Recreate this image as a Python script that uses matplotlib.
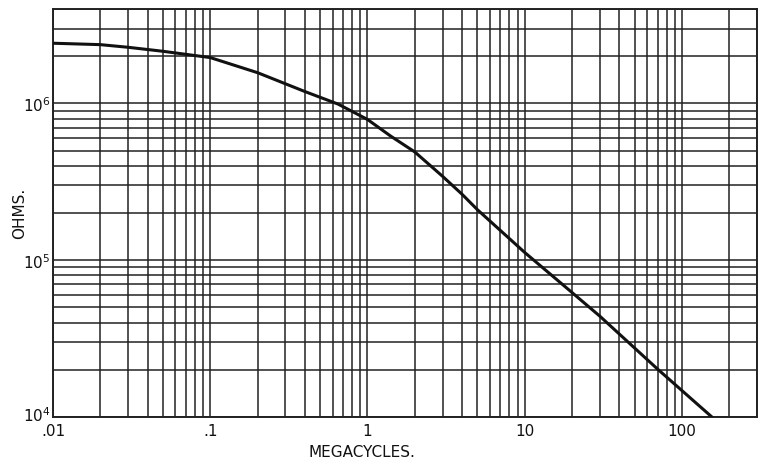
import matplotlib.pyplot as plt
from matplotlib.ticker import LogLocator, NullFormatter
from matplotlib.transforms import ScaledTranslation

# impedance curve
megacycles = [0.01, 0.02, 0.03, 0.05, 0.1, 0.2, 0.4, 0.65, 1.0, 1.4, 2.0, 3.0, 4.0, 5.0, 10.0, 18.0, 30.0, 70.0, 155.0]
ohms = [2.42e6, 2.37e6, 2.28e6, 2.15e6, 1.96e6, 1.57e6, 1.19e6, 9.9e5, 7.9e5, 6.2e5, 4.9e5,
        3.43e5, 2.63e5, 2.1e5, 1.12e5, 6.8e4, 4.4e4, 2.02e4, 1.0e4]

x_ticks = [0.01, 0.1, 1, 10, 100]
x_labels = ['.01', '.1', '1', '10', '100']
y_ticks = [1e4, 1e5, 1e6]
y_labels = ['$10^4$', '$10^5$', '$10^6$']

fig = plt.figure(figsize=(7.62, 4.64), dpi=100)
ax = fig.add_axes([53/762, 1 - 418/464, 704/762, 408/464])

ax.plot(megacycles, ohms, color='#111111', lw=2.2, zorder=3)

ax.set_xscale('log')
ax.set_yscale('log')
ax.set_xlim(0.01, 300)
ax.set_ylim(1e4, 4e6)

ax.set_xticks(x_ticks, labels=x_labels)
ax.set_yticks(y_ticks, labels=y_labels)
ax.xaxis.set_minor_locator(LogLocator(base=10, subs=range(2, 10)))
ax.yaxis.set_minor_locator(LogLocator(base=10, subs=range(2, 10)))
ax.xaxis.set_minor_formatter(NullFormatter())
ax.yaxis.set_minor_formatter(NullFormatter())
ax.tick_params(which='both', length=0, labelsize=11, colors='#111111')
ax.tick_params(axis='x', pad=4)
ax.tick_params(axis='y', pad=2)

# 10^4 sits just above the .01 label, nudge it up a little
lbl = ax.get_yticklabels()[0]
lbl.set_transform(lbl.get_transform() + ScaledTranslation(0, 4/100, fig.dpi_scale_trans))

ax.grid(True, which='both', color='#222222', lw=1.1)
ax.set_axisbelow(True)
for s in ax.spines.values():
    s.set_linewidth(1.4)
    s.set_color('#222222')

fig.text(362/762, 1 - 453/464, 'MEGACYCLES.', ha='center', va='center', fontsize=11, color='#111111')
fig.text(20/762, 1 - 213/464, 'OHMS.', ha='center', va='center', rotation=90, fontsize=11, color='#111111')

fig.savefig('out.png', dpi=100)
